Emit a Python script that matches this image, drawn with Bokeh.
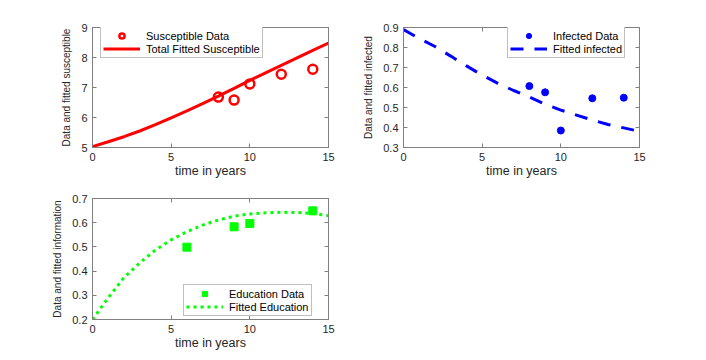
from bokeh.plotting import figure
from bokeh.layouts import column, row
from bokeh.models import Range1d, FixedTicker, LinearAxis, Legend, LegendItem
from bokeh.embed import file_html
from bokeh.resources import INLINE

# ---------------- data ----------------
t_fit = [0, 1, 2, 3, 4, 5, 6, 7, 8, 9, 10, 11, 12, 13, 14, 15]

s_fit = [5.03, 5.19, 5.36, 5.55, 5.76, 5.99, 6.22, 6.46, 6.71, 6.97, 7.24, 7.49, 7.74, 7.99, 8.24, 8.48]
s_t = [8, 9, 10, 12, 14]
s_data = [6.68, 6.58, 7.12, 7.44, 7.61]

i_fit = [0.89, 0.845, 0.805, 0.757, 0.708, 0.662, 0.621, 0.585, 0.552, 0.517, 0.487, 0.462, 0.437, 0.415, 0.398, 0.381]
i_t = [8, 9, 10, 12, 14]
i_data = [0.607, 0.576, 0.385, 0.546, 0.549]

e_fit = [0.2, 0.29, 0.373, 0.434, 0.487, 0.529, 0.563, 0.590, 0.611, 0.627, 0.636, 0.641, 0.643, 0.642, 0.638, 0.629]
e_t = [6, 9, 10, 14]
e_data = [0.499, 0.583, 0.597, 0.649]

x_ticks = [0, 5, 10, 15]
s_ticks = [5, 6, 7, 8, 9]
i_ticks = [0.3, 0.4, 0.5, 0.6, 0.7, 0.8, 0.9]
e_ticks = [0.2, 0.3, 0.4, 0.5, 0.6, 0.7]

FONT = "Liberation Sans"
TXT = "#262626"
AX = "#808080"


def make_fig(w, h, bl, br, bt, bb, yr, yticks, ylabel):
    p = figure(width=w, height=h, output_backend="svg", toolbar_location=None,
               x_range=Range1d(0, 15), y_range=Range1d(*yr),
               min_border_left=bl, min_border_right=br,
               min_border_top=bt, min_border_bottom=bb,
               x_axis_location=None, y_axis_location=None)
    p.grid.visible = False
    p.outline_line_color = AX
    p.outline_line_width = 1
    p.background_fill_color = "white"
    p.border_fill_color = "white"

    def style(ax, labels=True):
        ax.axis_line_color = AX
        ax.major_tick_line_color = AX
        ax.major_tick_in = 4
        ax.major_tick_out = 0
        ax.minor_tick_line_color = None
        ax.major_label_text_font = FONT
        ax.major_label_text_color = TXT if labels else None
        ax.major_label_text_font_size = "11px" if labels else "1px"
        ax.major_label_standoff = 5 if labels else 0
        ax.axis_label_text_font = FONT
        ax.axis_label_text_color = TXT
        ax.axis_label_text_font_style = "normal"

    xb = LinearAxis(ticker=FixedTicker(ticks=x_ticks), axis_label="time in years")
    style(xb)
    xb.axis_label_text_font_size = "12.5px"
    xb.axis_label_standoff = 0
    p.add_layout(xb, "below")

    yl = LinearAxis(ticker=FixedTicker(ticks=yticks), axis_label=ylabel)
    style(yl)
    yl.axis_label_text_font_size = "10px"
    yl.axis_label_standoff = 6
    p.add_layout(yl, "left")

    xa = LinearAxis(ticker=FixedTicker(ticks=x_ticks))
    style(xa, labels=False)
    p.add_layout(xa, "above")
    yr_ = LinearAxis(ticker=FixedTicker(ticks=yticks))
    style(yr_, labels=False)
    p.add_layout(yr_, "right")
    return p


def style_legend(lg):
    lg.label_text_font = FONT
    lg.label_text_font_size = "11px"
    lg.label_text_color = "black"
    lg.border_line_color = AX
    lg.border_line_width = 1
    lg.background_fill_color = "white"
    lg.background_fill_alpha = 1
    lg.glyph_width = 37
    lg.glyph_height = 13
    lg.label_height = 10
    lg.label_standoff = 6
    lg.spacing = 0
    lg.padding = 2
    lg.margin = 0


# ---------- Susceptible ----------
p1 = make_fig(360, 180, 92, 32, 27, 31, (5, 9), s_ticks, "Data and fitted susceptible")
r1a = p1.scatter(s_t, s_data, marker="circle", size=9, fill_color=None,
                 line_color="#ff0000", line_width=2.5)
r1b = p1.line(t_fit, s_fit, line_color="#ff0000", line_width=3)
lg1 = Legend(items=[LegendItem(label="Susceptible Data", renderers=[r1a]),
                    LegendItem(label="Total Fitted Susceptible", renderers=[r1b])],
             location=(8, 89))
style_legend(lg1)
p1.add_layout(lg1, "center")

# ---------- Infected ----------
p2 = make_fig(338, 180, 42, 59, 27, 31, (0.3, 0.9), i_ticks, "Data and fitted infected")
r2a = p2.scatter(i_t, i_data, marker="circle", size=7, fill_color="#0000ff",
                 line_color="#0000ff")
r2b = p2.line(t_fit, i_fit, line_color="#0000ff", line_width=3, line_dash="13 11")
lg2 = Legend(items=[LegendItem(label="Infected Data", renderers=[r2a]),
                    LegendItem(label="Fitted infected", renderers=[r2b])],
             location=(104, 89))
style_legend(lg2)
p2.add_layout(lg2, "center")

# ---------- Education ----------
p3 = make_fig(360, 172, 92, 32, 18, 32, (0.2, 0.7), e_ticks, "Data and fitted information")
r3a = p3.scatter(e_t, e_data, marker="square", size=8, fill_color="#00ff00",
                 line_color="#00ff00")
r3b = p3.line(t_fit, e_fit, line_color="#00ff00", line_width=3, line_dash="3 4")
lg3 = Legend(items=[LegendItem(label="Education Data", renderers=[r3a]),
                    LegendItem(label="Fitted Education", renderers=[r3b])],
             location=(91, 3))
style_legend(lg3)
p3.add_layout(lg3, "center")

layout = column(row(p1, p2), row(p3))
open("out.html", "w").write(file_html(layout, INLINE))
